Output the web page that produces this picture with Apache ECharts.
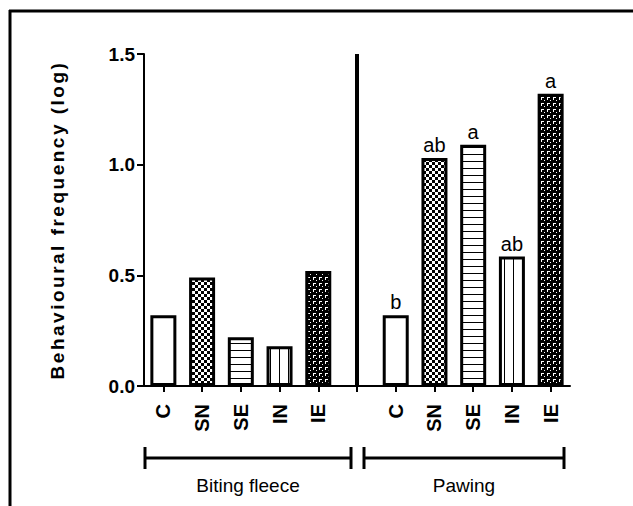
<!DOCTYPE html>
<html>
<head>
<meta charset="utf-8">
<script src="https://cdn.jsdelivr.net/npm/echarts@6/dist/echarts.min.js"></script>
<style>
  html, body { margin: 0; padding: 0; background: #fff; }
  #chart { width: 633px; height: 506px; }
</style>
</head>
<body>
<div id="chart"></div>
<script>
// treatment names, shown under each group
const categories = ['C', 'SN', 'SE', 'IN', 'IE'];
const groups = ['Biting fleece', 'Pawing'];
// log behavioural frequency per treatment
const bitingFleece = [0.32, 0.49, 0.22, 0.18, 0.52];
const pawing = [0.32, 1.03, 1.09, 0.585, 1.32];
// significance letters above the pawing bars
const pawingLetters = ['b', 'ab', 'a', 'ab', 'a'];
const yName = 'Behavioural frequency (log)';

// small fill patterns like the ones the original plot used
function makePattern(w, h, draw) {
  const c = document.createElement('canvas');
  c.width = w;
  c.height = h;
  const ctx = c.getContext('2d');
  ctx.fillStyle = '#fff';
  ctx.fillRect(0, 0, w, h);
  draw(ctx);
  return { image: c, repeat: 'repeat' };
}
const fills = [
  '#fff',
  makePattern(6, 6, (ctx) => {
    ctx.fillStyle = '#000';
    ctx.fillRect(0, 0, 3, 3);
    ctx.fillRect(3, 3, 3, 3);
  }),
  makePattern(1, 7, (ctx) => {
    ctx.fillStyle = '#000';
    ctx.fillRect(0, 0, 1, 1);
  }),
  makePattern(9, 1, (ctx) => {
    ctx.fillStyle = '#000';
    ctx.fillRect(0, 0, 1, 1);
  }),
  makePattern(6, 6, (ctx) => {
    ctx.fillStyle = '#000';
    ctx.fillRect(0, 0, 6, 6);
    ctx.fillStyle = '#fff';
    ctx.fillRect(1, 1, 3, 1);
    ctx.fillRect(1, 2, 1, 2);
    ctx.fillRect(4, 4, 1, 1);
  }),
];

function barItem(v, i, letter) {
  const item = {
    value: v,
    itemStyle: { color: fills[i] },
  };
  if (letter) {
    item.label = {
      show: true,
      position: 'top',
      distance: 3,
      formatter: letter,
      color: '#000',
      fontSize: 20,
      fontFamily: 'Liberation Sans, Arial, sans-serif',
    };
  }
  return item;
}

const axisCats = [...categories, '', ...categories];
const seriesData = [
  ...bitingFleece.map((v, i) => barItem(v, i)),
  '-',
  ...pawing.map((v, i) => barItem(v, i, pawingLetters[i])),
];

const chart = echarts.init(document.getElementById('chart'), null, { renderer: 'svg' });

const option = {
  animation: false,
  backgroundColor: '#fff',
  grid: { left: 144, right: 63, top: 54, bottom: 120 },
  xAxis: {
    type: 'category',
    data: axisCats,
    axisLine: { lineStyle: { color: '#000', width: 2 } },
    axisTick: { show: true, alignWithLabel: true, interval: 0, length: 6, lineStyle: { color: '#000', width: 2 } },
    axisLabel: {
      interval: 0,
      rotate: 90,
      margin: 18,
      color: '#000',
      fontSize: 20,
      fontWeight: 'bold',
      fontFamily: 'Liberation Sans, Arial, sans-serif',
    },
    splitLine: { show: false },
  },
  yAxis: {
    type: 'value',
    min: 0,
    max: 1.5,
    interval: 0.5,
    name: yName,
    nameLocation: 'middle',
    nameGap: 77,
    nameRotate: 90,
    nameTextStyle: {
      color: '#000',
      fontSize: 19,
      fontWeight: 'bold',
      fontFamily: 'Liberation Sans, Arial, sans-serif',
    },
    axisLine: { show: true, lineStyle: { color: '#000', width: 2 } },
    axisTick: { show: true, length: 7, lineStyle: { color: '#000', width: 2 } },
    axisLabel: {
      margin: 9,
      color: '#000',
      fontSize: 19,
      fontWeight: 'bold',
      fontFamily: 'Liberation Sans, Arial, sans-serif',
      formatter: (v) => v.toFixed(1),
    },
    splitLine: { show: false },
  },
  series: [
    {
      type: 'bar',
      data: seriesData,
      barWidth: 26,
      itemStyle: { borderColor: '#000', borderWidth: 3 },
    },
  ],
};
chart.setOption(option);

// separator, group brackets and the outer frame
function addDecorations() {
  const xs = (i) => chart.convertToPixel({ xAxisIndex: 0 }, i);
  const y0 = chart.convertToPixel({ yAxisIndex: 0 }, 0);
  const yTop = chart.convertToPixel({ yAxisIndex: 0 }, 1.5);
  const half = (xs(1) - xs(0)) / 2;
  const sep = xs(5);
  const bracketY = 458;
  const capH = 11;
  const line = (x1, y1, x2, y2, w) => ({
    type: 'line',
    shape: { x1, y1, x2, y2 },
    style: { stroke: '#000', lineWidth: w },
    silent: true,
  });
  const bracket = (a, b, text) => [
    line(a, bracketY, b, bracketY, 3),
    line(a, bracketY - capH, a, bracketY + capH, 3),
    line(b, bracketY - capH, b, bracketY + capH, 3),
    {
      type: 'text',
      x: (a + b) / 2,
      y: 485,
      style: {
        text: text,
        fill: '#000',
        font: '19px "Liberation Sans", Arial, sans-serif',
        align: 'center',
        verticalAlign: 'middle',
      },
      silent: true,
    },
  ];
  chart.setOption({
    graphic: [
      line(sep, yTop, sep, y0 + 1, 4),
      ...bracket(xs(0) - half + 1, sep - 6, groups[0]),
      ...bracket(sep + 7, xs(10) + half - 6, groups[1]),
      line(9, 11, 633, 11, 3),
      line(10, 10, 10, 506, 3),
    ],
  });
}
addDecorations();

// the original axis title is letter-spaced
chart.getDom().querySelectorAll('text').forEach((t) => {
  if (t.textContent === yName) t.style.letterSpacing = '2.5px';
});
</script>
</body>
</html>
